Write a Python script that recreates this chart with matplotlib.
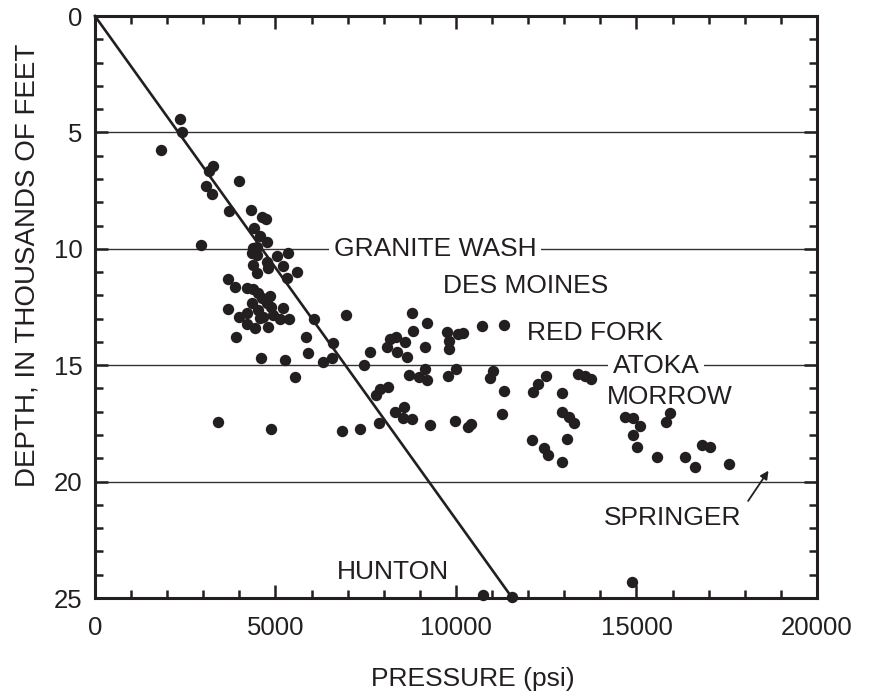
import numpy as np
import matplotlib
matplotlib.use("Agg")
import matplotlib.pyplot as plt
from matplotlib.ticker import MultipleLocator

# pressure (psi) and depth (thousands of feet)
pressure = [
    2350, 2420, 1820, 3280, 3170, 4000, 3070, 3250, 3710, 4320,
    4620, 4730, 4410, 4570, 4760, 2940, 4480, 4390, 4340, 4480,
    5030, 5360, 4390, 4760, 4800, 5220, 4480, 5600, 5330, 3680,
    3880, 4200, 4390, 4520, 4620, 4850, 4340, 4760, 4890, 5220,
    3690, 4520, 4200, 4000, 4660, 4570, 4940, 5130, 5380, 4200,
    4430, 4800, 3920, 6080, 5840, 6600, 6940, 4590, 5260, 5910,
    6310, 6560, 7460, 7630, 5540, 3400, 4880, 6850, 7330, 8770,
    9190, 8820, 8170, 8340, 8080, 8590, 8360, 8630, 9140, 9740,
    9820, 9820, 10060, 10200, 10710, 11330, 8710, 8980, 9140, 9210,
    9790, 10000, 11020, 10940, 11340, 12140, 8130, 7900, 7780, 8560,
    8310, 8520, 8790, 7880, 9280, 9970, 10340, 10430, 11270, 12110,
    12490, 12280, 13390, 13570, 13740, 12950, 12950, 13140, 13280, 13070,
    12440, 12560, 12930, 14680, 14910, 15100, 14910, 15010, 15930, 15820,
    15560, 16340, 16810, 17040, 16630, 17560, 14870, 10740, 11560,
]
depth = [
    4.44, 4.97, 5.76, 6.43, 6.64, 7.09, 7.30, 7.63, 8.36, 8.35,
    8.65, 8.73, 9.12, 9.45, 9.69, 9.84, 9.91, 9.95, 10.19, 10.27,
    10.31, 10.17, 10.70, 10.58, 10.84, 10.73, 11.05, 10.98, 11.27, 11.30,
    11.63, 11.70, 11.74, 11.91, 12.13, 12.03, 12.34, 12.34, 12.49, 12.56,
    12.60, 12.63, 12.77, 12.94, 12.92, 12.99, 12.84, 13.03, 13.03, 13.23,
    13.42, 13.35, 13.78, 13.03, 13.78, 14.06, 12.84, 14.70, 14.78, 14.49,
    14.85, 14.70, 14.99, 14.44, 15.52, 17.43, 17.75, 17.81, 17.74, 12.74,
    13.17, 13.52, 13.89, 13.80, 14.20, 14.02, 14.45, 14.63, 14.23, 13.56,
    13.96, 14.30, 13.66, 13.63, 13.30, 13.27, 15.42, 15.52, 15.18, 15.64,
    15.45, 15.18, 15.24, 15.56, 16.10, 16.14, 15.92, 16.04, 16.28, 16.81,
    17.02, 17.28, 17.32, 17.48, 17.57, 17.40, 17.64, 17.53, 17.10, 18.21,
    15.45, 15.81, 15.38, 15.46, 15.61, 16.21, 17.00, 17.24, 17.47, 18.18,
    18.57, 18.86, 19.17, 17.21, 17.28, 17.61, 18.00, 18.53, 17.04, 17.43,
    18.93, 18.93, 18.43, 18.53, 19.38, 19.25, 24.33, 24.88, 24.94,
]

# hydrostatic trend line
trend_pressure = [0, 11560]
trend_depth = [0, 25]

# formation names: (label, pressure, depth)
formations = [
    ("DES MOINES", 11940, 11.6),
    ("RED FORK", 13850, 13.62),
    ("MORROW", 15930, 16.37),
    ("HUNTON", 8250, 23.9),
]
boxed_formations = [
    ("GRANITE WASH", 9420, 10.0),
    ("ATOKA", 15540, 15.05),
]
springer_text = (16010, 21.56)
springer_tip = (18700, 19.43)
springer_tail = (18050, 20.93)

ink = "#231f20"
fs = 19
plt.rcParams["font.family"] = ["Liberation Sans", "DejaVu Sans"]

fig = plt.figure(figsize=(8.72, 6.96), dpi=100)
ax = fig.add_axes([0.1089, 0.1408, 0.828, 0.8362])

for d in [5, 10, 15, 20]:
    ax.axhline(d, color="#333333", lw=1.0, zorder=1)

ax.plot(trend_pressure, trend_depth, color=ink, lw=1.9, zorder=2, clip_on=False)
ax.plot(pressure, depth, "o", color=ink, ms=8.2, mew=0, zorder=3, clip_on=False)

for name, x, y in formations:
    ax.text(x, y, name, fontsize=fs, color=ink, ha="center", va="center", zorder=4)
for name, x, y in boxed_formations:
    ax.text(x, y, name, fontsize=fs, color=ink, ha="center", va="center", zorder=4,
            bbox=dict(facecolor="white", edgecolor="none", pad=3.5))

ax.text(springer_text[0], springer_text[1], "SPRINGER", fontsize=fs, color=ink,
        ha="center", va="center")
ax.annotate("", xy=springer_tip, xytext=springer_tail,
            arrowprops=dict(arrowstyle="-|>", color=ink, lw=1.3, mutation_scale=12))

ax.set_xlim(0, 20000)
ax.set_ylim(25, 0)
ax.xaxis.set_major_locator(MultipleLocator(5000))
ax.xaxis.set_minor_locator(MultipleLocator(1000))
ax.yaxis.set_major_locator(MultipleLocator(5))
ax.yaxis.set_minor_locator(MultipleLocator(1))
ax.tick_params(which="both", direction="in", top=True, right=True, width=1.8,
               color=ink, labelcolor=ink, labelsize=18.5)
ax.tick_params(which="major", length=9.5)
ax.tick_params(which="minor", length=6)
ax.tick_params(axis="x", pad=13)
ax.tick_params(axis="y", pad=9)

for s in ax.spines.values():
    s.set_linewidth(2.2)
    s.set_color(ink)

ax.set_xlabel("PRESSURE (psi)", fontsize=fs, color=ink)
ax.set_ylabel("DEPTH, IN THOUSANDS OF FEET", fontsize=20, color=ink)
ax.xaxis.set_label_coords(0.524, -0.118)
ax.yaxis.set_label_coords(-0.076, 0.572)

fig.savefig("out.png", dpi=100)
